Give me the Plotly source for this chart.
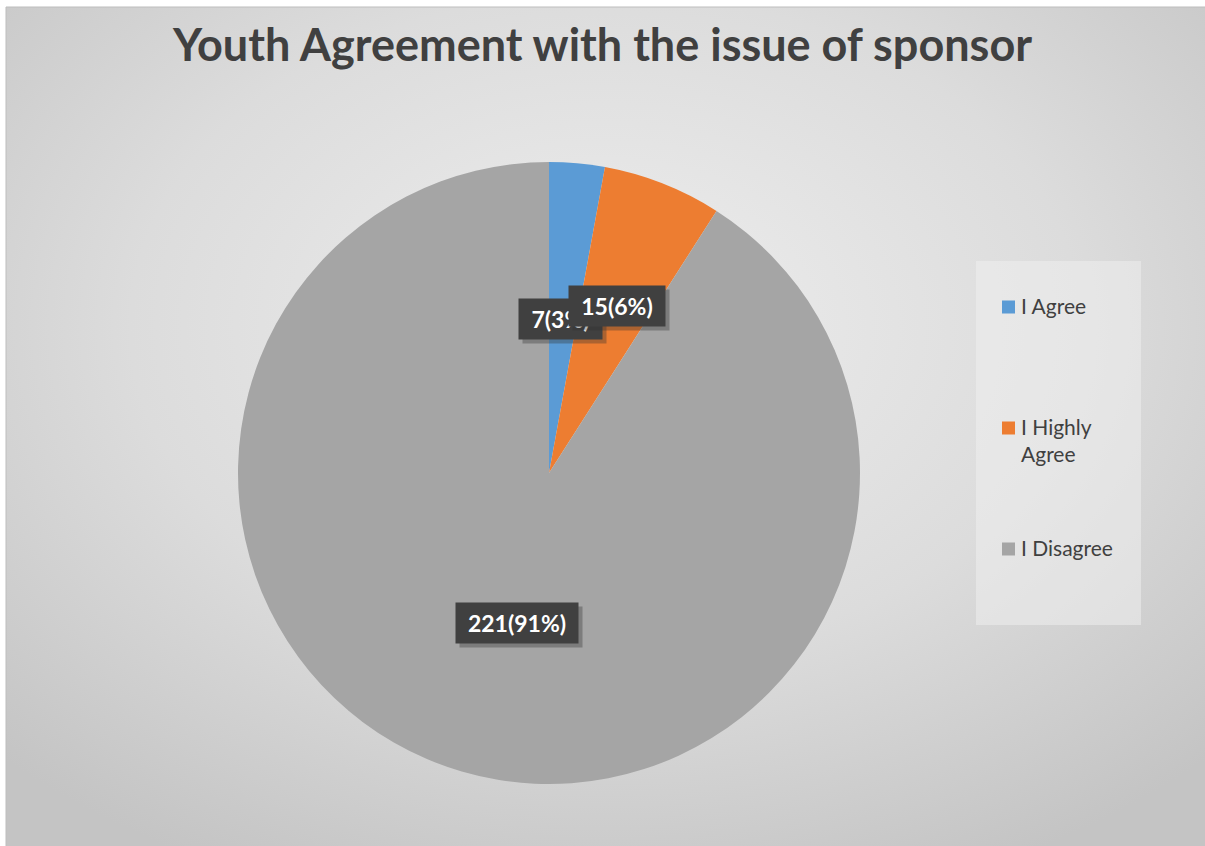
import base64
import math
import plotly.graph_objects as go

# ---- data ----
labels = ["I Agree", "I Highly Agree", "I Disagree"]
counts = [7, 15, 221]
colors = ["#5B9BD5", "#ED7D31", "#A5A5A5"]
title_text = "Youth Agreement with the issue of sponsor"

W, H = 1205, 846
total = sum(counts)
percents = [round(c / total * 100) for c in counts]
label_texts = [f"{c}({p}%)" for c, p in zip(counts, percents)]


def px(x):
    return x / W


def py(y):
    return 1 - y / H


# pie geometry (pixels)
cx, cy, rad = 549, 473, 311

fig = go.Figure()
fig.add_trace(go.Pie(
    labels=labels,
    values=counts,
    marker=dict(colors=colors, line=dict(width=0)),
    sort=False,
    direction="clockwise",
    rotation=0,
    textinfo="none",
    showlegend=False,
    domain=dict(x=[px(cx - rad), px(cx + rad)], y=[py(cy + rad), py(cy - rad)]),
))

# background: soft radial gradient panel
svg = f'''<svg xmlns="http://www.w3.org/2000/svg" width="{W}" height="{H}" viewBox="0 0 {W} {H}" preserveAspectRatio="none">
<defs><radialGradient id="g" cx="50%" cy="38%" r="72%">
<stop offset="0" stop-color="#eeeeee"/><stop offset="0.55" stop-color="#dcdcdc"/><stop offset="1" stop-color="#c4c4c4"/>
</radialGradient></defs>
<rect width="100%" height="100%" fill="url(#g)"/></svg>'''
src = "data:image/svg+xml;base64," + base64.b64encode(svg.encode()).decode()
fig.add_layout_image(dict(
    source=src, xref="paper", yref="paper", x=px(6), y=py(7),
    sizex=px(W - 6), sizey=(H - 7) / H,
    sizing="stretch", layer="below", xanchor="left", yanchor="top",
))

shapes = [
    dict(type="rect", xref="paper", yref="paper", x0=px(6), x1=px(W + 2), y0=py(H + 2), y1=py(7),
         line=dict(color="#bdbdbd", width=1), fillcolor="rgba(0,0,0,0)", layer="below"),
]

annotations = []

# data labels placed at slice mid-angles, in dark boxes with a drop shadow
nudges = [(-3, 7), (9, -17), (13, 16)]
cum = 0
for i, (c, txt) in enumerate(zip(counts, label_texts)):
    mid = (cum + c / 2) / total * 2 * math.pi
    cum += c
    rr = 0.52 * rad
    lx = cx + rr * math.sin(mid) + nudges[i][0]
    ly = cy - rr * math.cos(mid) + nudges[i][1]
    bw = 13 * len(txt) + 4
    annotations.append(dict(
        x=px(lx + 4), y=py(ly + 4), xref="paper", yref="paper", showarrow=False,
        text=" ", width=bw, height=26, font=dict(size=10),
        bgcolor="rgba(50,50,50,0.35)", borderpad=7,
    ))
    annotations.append(dict(
        x=px(lx), y=py(ly), xref="paper", yref="paper", showarrow=False,
        text=f"<b>{txt}</b>", width=bw, height=26,
        font=dict(family="Lato", size=23, color="white"),
        bgcolor="#404040", borderpad=7,
    ))

# legend panel
shapes.append(dict(type="rect", xref="paper", yref="paper",
                   x0=px(976), x1=px(1141), y0=py(625), y1=py(261),
                   fillcolor="rgba(238,238,238,0.55)", line=dict(width=0), layer="below"))


def wrap(s, width=10):
    words, lines, cur = s.split(), [], ""
    for w in words:
        if cur and len(cur) + 1 + len(w) > width:
            lines.append(cur)
            cur = w
        else:
            cur = (cur + " " + w).strip()
    lines.append(cur)
    return "<br>".join(lines)


for i, (lab, col) in enumerate(zip(labels, colors)):
    yc = 307 + i * 121
    shapes.append(dict(type="rect", xref="paper", yref="paper",
                       x0=px(1002), x1=px(1015), y0=py(yc + 6.5), y1=py(yc - 6.5),
                       fillcolor=col, line=dict(width=0)))
    annotations.append(dict(
        x=px(1019), y=py(yc - 16), xref="paper", yref="paper", showarrow=False,
        xanchor="left", yanchor="top", align="left",
        text=wrap(lab), font=dict(family="Lato", size=21, color="#404040"),
    ))

fig.update_layout(
    width=W, height=H,
    margin=dict(l=0, r=0, t=0, b=0),
    paper_bgcolor="white",
    title=dict(text=f"<b>{title_text}</b>", x=0.5, xanchor="center",
               yref="container", y=py(45), yanchor="middle",
               font=dict(family="Lato", size=45, color="#404040")),
    shapes=shapes,
    annotations=annotations,
)

fig.write_html("out.html")
